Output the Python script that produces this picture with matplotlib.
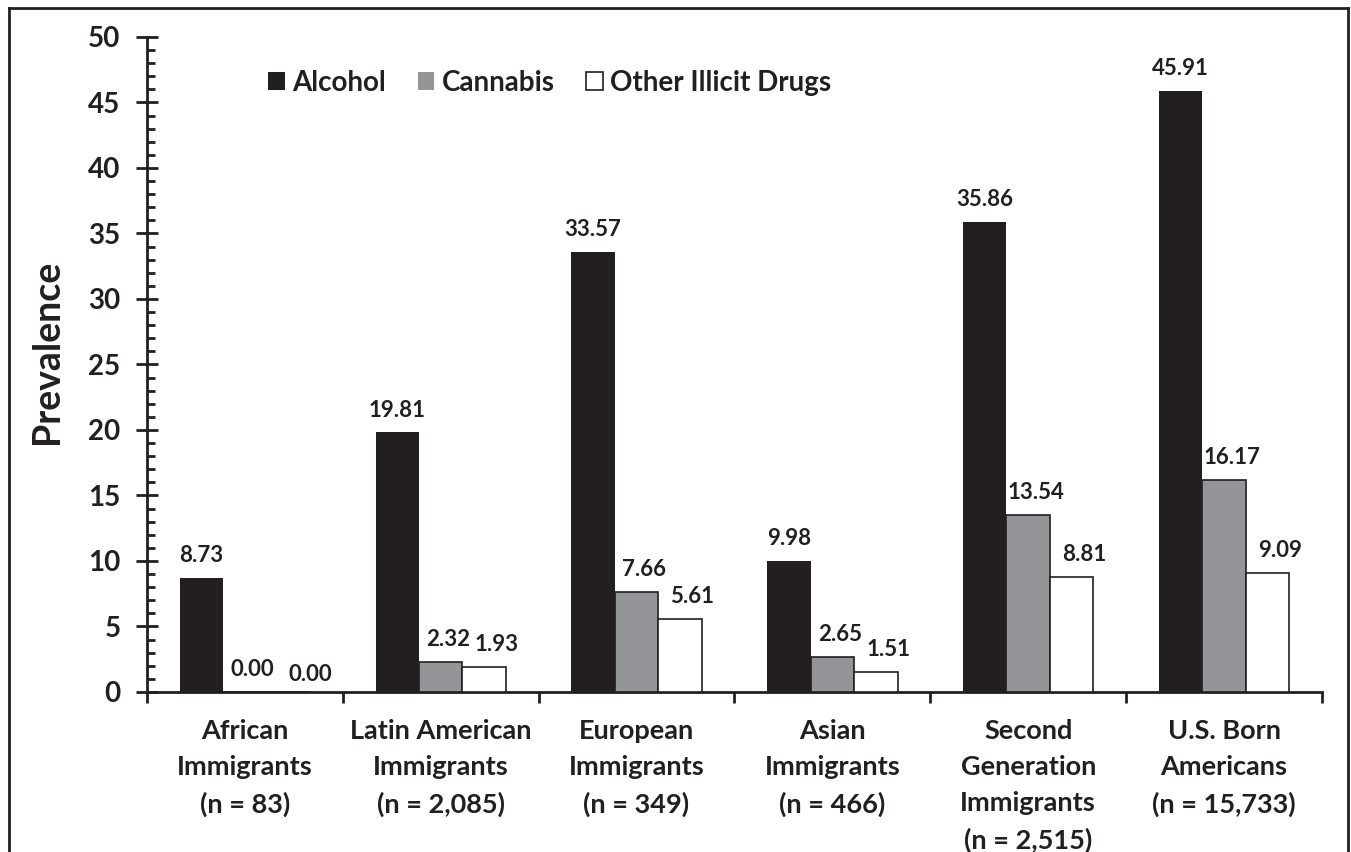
import matplotlib
matplotlib.use("Agg")
import matplotlib.pyplot as plt
from matplotlib.patches import Patch
from matplotlib.ticker import MultipleLocator, FixedLocator, NullFormatter
import numpy as np

categories = ["African\nImmigrants\n(n = 83)",
              "Latin American\nImmigrants\n(n = 2,085)",
              "European\nImmigrants\n(n = 349)",
              "Asian\nImmigrants\n(n = 466)",
              "Second\nGeneration\nImmigrants\n(n = 2,515)",
              "U.S. Born\nAmericans\n(n = 15,733)"]
series_names = ["Alcohol", "Cannabis", "Other Illicit Drugs"]
alcohol = [8.73, 19.81, 33.57, 9.98, 35.86, 45.91]
cannabis = [0.00, 2.32, 7.66, 2.65, 13.54, 16.17]
other = [0.00, 1.93, 5.61, 1.51, 8.81, 9.09]

plt.rcParams['font.family'] = ['Lato', 'DejaVu Sans']
plt.rcParams['font.weight'] = 'bold'

fig = plt.figure(figsize=(13.51, 8.52), dpi=100)
ax = fig.add_axes([0.1088, 0.1878, 0.9785 - 0.1088, 0.9566 - 0.1878])

ink = '#231f20'
colors = [ink, '#939598', '#ffffff']
n = len(categories)
x = np.arange(n)
w = 0.222
data = [alcohol, cannabis, other]
label_dx = [0, 5.5, 9]  # label shift (points) per series, as in the source
for i, (vals, c) in enumerate(zip(data, colors)):
    pos = x + (i - 1) * w
    ax.bar(pos, vals, width=w, color=c, edgecolor=ink, linewidth=1.2 if i else 0.0, zorder=3)
    for xp, v in zip(pos, vals):
        dx = label_dx[i]
        dy = 11.5
        if v == 0 and i == 2:
            dx, dy = 16, 8
        ax.annotate(f"{v:.2f}", (xp, v), xytext=(dx, dy), textcoords='offset points',
                    ha='center', va='baseline', fontsize=16, fontweight='bold', color=ink)

ax.set_xlim(-0.5, n - 0.5)
ax.set_ylim(0, 50)

for s in ['top', 'right']:
    ax.spines[s].set_visible(False)
for s in ['left', 'bottom']:
    ax.spines[s].set_linewidth(2)
    ax.spines[s].set_color(ink)

ax.yaxis.set_major_locator(MultipleLocator(5))
ax.yaxis.set_minor_locator(MultipleLocator(1))
ax.tick_params(axis='y', which='major', direction='inout', length=16, width=2,
               labelsize=20, pad=11, colors=ink)
ax.tick_params(axis='y', which='minor', direction='in', length=6, width=2, colors=ink)

ax.xaxis.set_major_locator(FixedLocator(np.arange(n + 1) - 0.5))
ax.xaxis.set_major_formatter(NullFormatter())
ax.xaxis.set_minor_locator(FixedLocator(x))
ax.set_xticklabels(categories, minor=True)
ax.tick_params(axis='x', which='major', direction='out', length=8, width=2, colors=ink)
ax.tick_params(axis='x', which='minor', length=0, labelsize=19.5, pad=19.5, colors=ink)
for lab in ax.get_xticklabels(minor=True):
    lab.set_linespacing(1.6)
    lab.set_fontweight('bold')
for lab in ax.get_yticklabels():
    lab.set_fontweight('bold')

ax.set_ylabel("Prevalence", fontsize=27, fontweight='bold', color=ink)
ax.yaxis.set_label_coords(-0.071, 0.52)

handles = [Patch(facecolor=c, edgecolor=ink, linewidth=1.2 if i == 2 else 0)
           for i, c in enumerate(colors)]
leg = ax.legend(handles, series_names, loc='center left', bbox_to_anchor=(0.1905, 0.9026),
                bbox_transform=fig.transFigure, ncol=3, frameon=False,
                prop={'size': 20, 'weight': 'bold'}, handlelength=0.6, handleheight=0.6,
                handletextpad=0.25, columnspacing=1.15, borderaxespad=0)
for t in leg.get_texts():
    t.set_color(ink)

# outer frame (left, top, right)
fig.add_artist(plt.Line2D([0.0066, 0.0066], [0, 0.9906], transform=fig.transFigure, color=ink, lw=2))
fig.add_artist(plt.Line2D([0.0066, 0.9978], [0.9906, 0.9906], transform=fig.transFigure, color=ink, lw=2))
fig.add_artist(plt.Line2D([0.9978, 0.9978], [0, 0.9906], transform=fig.transFigure, color=ink, lw=2))

fig.savefig("out.png", dpi=100)
